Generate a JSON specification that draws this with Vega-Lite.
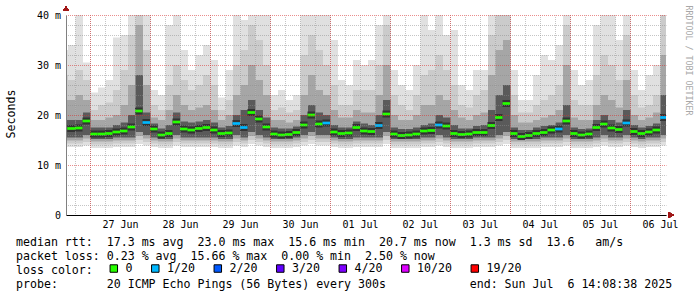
{
  "$schema": "https://vega.github.io/schema/vega-lite/v6.json",
  "width": 600,
  "height": 200,
  "autosize": "none",
  "padding": {"left": 66, "top": 15, "right": 31, "bottom": 82},
  "background": "white",
  "config": {"view": {"stroke": null}, "font": "DejaVu Sans Mono"},
  "resolve": {"axis": {"x": "independent", "y": "independent"}},
  "data": {"values": [
    {"t":"2025-06-26T12:00","l1":13.6,"l2":14.3,"l3":14.9,"l4":15.5,"h1":33,"h2":28,"h3":23,"h4":19,"m":17.3,"loss":"0"},
    {"t":"2025-06-26T15:00","l1":13.6,"l2":14.3,"l3":14.9,"l4":15.5,"h1":34,"h2":27,"h3":23,"h4":19,"m":17.3,"loss":"0"},
    {"t":"2025-06-26T18:00","l1":13.6,"l2":14.3,"l3":14.9,"l4":15.5,"h1":40,"h2":29,"h3":24,"h4":19,"m":17.4,"loss":"0"},
    {"t":"2025-06-26T21:00","l1":13.9,"l2":14.6,"l3":15.3,"l4":16.0,"h1":30.5,"h2":27,"h3":23,"h4":20.5,"m":18.8,"loss":"0"},
    {"t":"2025-06-27T00:00","l1":13.4,"l2":14.1,"l3":14.7,"l4":15.2,"h1":24.5,"h2":21,"h3":19,"h4":17.5,"m":16.2,"loss":"0"},
    {"t":"2025-06-27T03:00","l1":13.4,"l2":14.1,"l3":14.7,"l4":15.2,"h1":25.5,"h2":22,"h3":19,"h4":17.5,"m":16.2,"loss":"0"},
    {"t":"2025-06-27T06:00","l1":13.4,"l2":14.1,"l3":14.7,"l4":15.2,"h1":27,"h2":22.5,"h3":19.5,"h4":17.5,"m":16.3,"loss":"0"},
    {"t":"2025-06-27T09:00","l1":13.6,"l2":14.3,"l3":14.9,"l4":15.5,"h1":35.5,"h2":25,"h3":20,"h4":18,"m":16.6,"loss":"0"},
    {"t":"2025-06-27T12:00","l1":13.6,"l2":14.3,"l3":14.9,"l4":15.5,"h1":36,"h2":29,"h3":22,"h4":18.5,"m":16.8,"loss":"0"},
    {"t":"2025-06-27T15:00","l1":13.6,"l2":14.3,"l3":14.9,"l4":15.5,"h1":40,"h2":36,"h3":26,"h4":20,"m":17.6,"loss":"0"},
    {"t":"2025-06-27T18:00","l1":14.2,"l2":15.0,"l3":15.8,"l4":16.6,"h1":40,"h2":40,"h3":38,"h4":28,"m":20.8,"loss":"0"},
    {"t":"2025-06-27T21:00","l1":13.9,"l2":14.6,"l3":15.3,"l4":16.0,"h1":40,"h2":33,"h3":26,"h4":20.5,"m":18.5,"loss":"1/20"},
    {"t":"2025-06-28T00:00","l1":13.6,"l2":14.3,"l3":14.9,"l4":15.5,"h1":25,"h2":22,"h3":19.5,"h4":18.3,"m":17.2,"loss":"0"},
    {"t":"2025-06-28T03:00","l1":13.4,"l2":14.1,"l3":14.7,"l4":15.2,"h1":24,"h2":21,"h3":19,"h4":17.3,"m":16.0,"loss":"0"},
    {"t":"2025-06-28T06:00","l1":13.4,"l2":14.1,"l3":14.7,"l4":15.2,"h1":38,"h2":26,"h3":21,"h4":18,"m":16.3,"loss":"0"},
    {"t":"2025-06-28T09:00","l1":13.9,"l2":14.6,"l3":15.3,"l4":16.0,"h1":40,"h2":30,"h3":24,"h4":20.5,"m":18.6,"loss":"0"},
    {"t":"2025-06-28T12:00","l1":13.6,"l2":14.3,"l3":14.9,"l4":15.5,"h1":33,"h2":27,"h3":22,"h4":18.7,"m":17.2,"loss":"0"},
    {"t":"2025-06-28T15:00","l1":13.6,"l2":14.3,"l3":14.9,"l4":15.5,"h1":29,"h2":25,"h3":21,"h4":18.5,"m":17.0,"loss":"0"},
    {"t":"2025-06-28T18:00","l1":13.6,"l2":14.3,"l3":14.9,"l4":15.5,"h1":32,"h2":26,"h3":21.5,"h4":18.7,"m":17.3,"loss":"0"},
    {"t":"2025-06-28T21:00","l1":13.6,"l2":14.3,"l3":14.9,"l4":15.5,"h1":34,"h2":28,"h3":22,"h4":19,"m":17.5,"loss":"0"},
    {"t":"2025-06-29T00:00","l1":13.6,"l2":14.3,"l3":14.9,"l4":15.5,"h1":31,"h2":26,"h3":21,"h4":18.5,"m":17.0,"loss":"0"},
    {"t":"2025-06-29T03:00","l1":13.4,"l2":14.1,"l3":14.7,"l4":15.2,"h1":23.5,"h2":21,"h3":19,"h4":17.5,"m":16.3,"loss":"0"},
    {"t":"2025-06-29T06:00","l1":13.4,"l2":14.1,"l3":14.7,"l4":15.2,"h1":29,"h2":23,"h3":20,"h4":17.8,"m":16.4,"loss":"0"},
    {"t":"2025-06-29T09:00","l1":13.9,"l2":14.6,"l3":15.3,"l4":16.0,"h1":40,"h2":30,"h3":24,"h4":20,"m":18.3,"loss":"1/20"},
    {"t":"2025-06-29T12:00","l1":13.6,"l2":14.3,"l3":14.9,"l4":15.5,"h1":39,"h2":33,"h3":26,"h4":21,"m":17.5,"loss":"1/20"},
    {"t":"2025-06-29T15:00","l1":14.2,"l2":15.0,"l3":15.8,"l4":16.6,"h1":40,"h2":38,"h3":30,"h4":23,"m":20.5,"loss":"0"},
    {"t":"2025-06-29T18:00","l1":13.9,"l2":14.6,"l3":15.3,"l4":16.0,"h1":40,"h2":35,"h3":27,"h4":21,"m":19.2,"loss":"0"},
    {"t":"2025-06-29T21:00","l1":13.6,"l2":14.3,"l3":14.9,"l4":15.5,"h1":40,"h2":30,"h3":24,"h4":19.5,"m":17.6,"loss":"0"},
    {"t":"2025-06-30T00:00","l1":13.4,"l2":14.1,"l3":14.7,"l4":15.2,"h1":24,"h2":21,"h3":19,"h4":17.5,"m":16.2,"loss":"0"},
    {"t":"2025-06-30T03:00","l1":13.4,"l2":14.1,"l3":14.7,"l4":15.2,"h1":25,"h2":21.5,"h3":19,"h4":17.3,"m":16.0,"loss":"0"},
    {"t":"2025-06-30T06:00","l1":13.4,"l2":14.1,"l3":14.7,"l4":15.2,"h1":23,"h2":20.5,"h3":18.5,"h4":17.3,"m":16.1,"loss":"0"},
    {"t":"2025-06-30T09:00","l1":13.6,"l2":14.3,"l3":14.9,"l4":15.5,"h1":24,"h2":21,"h3":19,"h4":17.7,"m":16.5,"loss":"0"},
    {"t":"2025-06-30T12:00","l1":13.9,"l2":14.6,"l3":15.3,"l4":16.0,"h1":40,"h2":32,"h3":24,"h4":20,"m":18.0,"loss":"0"},
    {"t":"2025-06-30T15:00","l1":14.2,"l2":15.0,"l3":15.8,"l4":16.6,"h1":40,"h2":36,"h3":28,"h4":22,"m":20.0,"loss":"0"},
    {"t":"2025-06-30T18:00","l1":13.9,"l2":14.6,"l3":15.3,"l4":16.0,"h1":40,"h2":33,"h3":25,"h4":20.5,"m":18.2,"loss":"0"},
    {"t":"2025-06-30T21:00","l1":13.9,"l2":14.6,"l3":15.3,"l4":16.0,"h1":40,"h2":30,"h3":24,"h4":20,"m":18.4,"loss":"1/20"},
    {"t":"2025-07-01T00:00","l1":13.6,"l2":14.3,"l3":14.9,"l4":15.5,"h1":35,"h2":26,"h3":21,"h4":18,"m":16.6,"loss":"0"},
    {"t":"2025-07-01T03:00","l1":13.4,"l2":14.1,"l3":14.7,"l4":15.2,"h1":27,"h2":22,"h3":19.5,"h4":17.5,"m":16.3,"loss":"0"},
    {"t":"2025-07-01T06:00","l1":13.4,"l2":14.1,"l3":14.7,"l4":15.2,"h1":26,"h2":22,"h3":19.5,"h4":17.5,"m":16.4,"loss":"0"},
    {"t":"2025-07-01T09:00","l1":13.6,"l2":14.3,"l3":14.9,"l4":15.5,"h1":31,"h2":25,"h3":21,"h4":18.7,"m":17.5,"loss":"0"},
    {"t":"2025-07-01T12:00","l1":13.6,"l2":14.3,"l3":14.9,"l4":15.5,"h1":30,"h2":25,"h3":20.5,"h4":18.3,"m":16.8,"loss":"0"},
    {"t":"2025-07-01T15:00","l1":13.6,"l2":14.3,"l3":14.9,"l4":15.5,"h1":31,"h2":25,"h3":20.5,"h4":18,"m":16.7,"loss":"0"},
    {"t":"2025-07-01T18:00","l1":13.6,"l2":14.3,"l3":14.9,"l4":15.5,"h1":38,"h2":30,"h3":24,"h4":20,"m":17.9,"loss":"1/20"},
    {"t":"2025-07-01T21:00","l1":14.2,"l2":15.0,"l3":15.8,"l4":16.6,"h1":40,"h2":38,"h3":30,"h4":23,"m":20.2,"loss":"0"},
    {"t":"2025-07-02T00:00","l1":13.4,"l2":14.1,"l3":14.7,"l4":15.2,"h1":29,"h2":24,"h3":20,"h4":17.5,"m":16.2,"loss":"0"},
    {"t":"2025-07-02T03:00","l1":13.4,"l2":14.1,"l3":14.7,"l4":15.2,"h1":26,"h2":22,"h3":19,"h4":17.2,"m":15.9,"loss":"0"},
    {"t":"2025-07-02T06:00","l1":13.4,"l2":14.1,"l3":14.7,"l4":15.2,"h1":25,"h2":21,"h3":19,"h4":17.2,"m":16.0,"loss":"0"},
    {"t":"2025-07-02T09:00","l1":13.4,"l2":14.1,"l3":14.7,"l4":15.2,"h1":30,"h2":24,"h3":20,"h4":17.5,"m":16.2,"loss":"0"},
    {"t":"2025-07-02T12:00","l1":13.6,"l2":14.3,"l3":14.9,"l4":15.5,"h1":40,"h2":28,"h3":22,"h4":18,"m":16.8,"loss":"0"},
    {"t":"2025-07-02T15:00","l1":13.6,"l2":14.3,"l3":14.9,"l4":15.5,"h1":37,"h2":29,"h3":22,"h4":18.3,"m":16.9,"loss":"0"},
    {"t":"2025-07-02T18:00","l1":13.9,"l2":14.6,"l3":15.3,"l4":16.0,"h1":40,"h2":32,"h3":24,"h4":20,"m":18.0,"loss":"1/20"},
    {"t":"2025-07-02T21:00","l1":13.6,"l2":14.3,"l3":14.9,"l4":15.5,"h1":36,"h2":29,"h3":23,"h4":19.5,"m":17.8,"loss":"0"},
    {"t":"2025-07-03T00:00","l1":13.4,"l2":14.1,"l3":14.7,"l4":15.2,"h1":37,"h2":26,"h3":21,"h4":18,"m":16.3,"loss":"0"},
    {"t":"2025-07-03T03:00","l1":13.4,"l2":14.1,"l3":14.7,"l4":15.2,"h1":26,"h2":22,"h3":19.5,"h4":17.3,"m":16.1,"loss":"0"},
    {"t":"2025-07-03T06:00","l1":13.4,"l2":14.1,"l3":14.7,"l4":15.2,"h1":25,"h2":21.5,"h3":19,"h4":17.3,"m":16.2,"loss":"0"},
    {"t":"2025-07-03T09:00","l1":13.6,"l2":14.3,"l3":14.9,"l4":15.5,"h1":29,"h2":24,"h3":20,"h4":17.8,"m":16.5,"loss":"0"},
    {"t":"2025-07-03T12:00","l1":13.6,"l2":14.3,"l3":14.9,"l4":15.5,"h1":29,"h2":25,"h3":20.5,"h4":18,"m":16.5,"loss":"0"},
    {"t":"2025-07-03T15:00","l1":13.6,"l2":14.3,"l3":14.9,"l4":15.5,"h1":40,"h2":36,"h3":28,"h4":21,"m":17.9,"loss":"0"},
    {"t":"2025-07-03T18:00","l1":13.9,"l2":14.6,"l3":15.3,"l4":16.0,"h1":40,"h2":40,"h3":33,"h4":24,"m":19.5,"loss":"0"},
    {"t":"2025-07-03T21:00","l1":14.2,"l2":15.0,"l3":15.8,"l4":16.6,"h1":40,"h2":40,"h3":35,"h4":26,"m":22.3,"loss":"0"},
    {"t":"2025-07-04T00:00","l1":13.4,"l2":14.1,"l3":14.7,"l4":15.2,"h1":29,"h2":24,"h3":20,"h4":17.5,"m":16.3,"loss":"0"},
    {"t":"2025-07-04T03:00","l1":13.4,"l2":14.1,"l3":14.7,"l4":15.2,"h1":23,"h2":20.5,"h3":18.5,"h4":17,"m":15.7,"loss":"0"},
    {"t":"2025-07-04T06:00","l1":13.4,"l2":14.1,"l3":14.7,"l4":15.2,"h1":23,"h2":20.5,"h3":18.5,"h4":17,"m":15.9,"loss":"0"},
    {"t":"2025-07-04T09:00","l1":13.4,"l2":14.1,"l3":14.7,"l4":15.2,"h1":28,"h2":22,"h3":19,"h4":17.5,"m":16.3,"loss":"0"},
    {"t":"2025-07-04T12:00","l1":13.6,"l2":14.3,"l3":14.9,"l4":15.5,"h1":32,"h2":23,"h3":19.5,"h4":17.8,"m":16.5,"loss":"0"},
    {"t":"2025-07-04T15:00","l1":13.6,"l2":14.3,"l3":14.9,"l4":15.5,"h1":31,"h2":24,"h3":20,"h4":18,"m":17.0,"loss":"0"},
    {"t":"2025-07-04T18:00","l1":13.6,"l2":14.3,"l3":14.9,"l4":15.5,"h1":34,"h2":26,"h3":21,"h4":18.5,"m":17.2,"loss":"1/20"},
    {"t":"2025-07-04T21:00","l1":13.9,"l2":14.6,"l3":15.3,"l4":16.0,"h1":40,"h2":38,"h3":30,"h4":22,"m":18.8,"loss":"0"},
    {"t":"2025-07-05T00:00","l1":13.4,"l2":14.1,"l3":14.7,"l4":15.2,"h1":29,"h2":23,"h3":19.5,"h4":17.5,"m":16.3,"loss":"0"},
    {"t":"2025-07-05T03:00","l1":13.4,"l2":14.1,"l3":14.7,"l4":15.2,"h1":26,"h2":22,"h3":19,"h4":17.2,"m":16.0,"loss":"0"},
    {"t":"2025-07-05T06:00","l1":13.4,"l2":14.1,"l3":14.7,"l4":15.2,"h1":27,"h2":22,"h3":19,"h4":17.3,"m":16.2,"loss":"0"},
    {"t":"2025-07-05T09:00","l1":13.6,"l2":14.3,"l3":14.9,"l4":15.5,"h1":38,"h2":28,"h3":22,"h4":19,"m":17.5,"loss":"0"},
    {"t":"2025-07-05T12:00","l1":13.9,"l2":14.6,"l3":15.3,"l4":16.0,"h1":40,"h2":32,"h3":24,"h4":20,"m":18.2,"loss":"0"},
    {"t":"2025-07-05T15:00","l1":13.6,"l2":14.3,"l3":14.9,"l4":15.5,"h1":40,"h2":30,"h3":23,"h4":19,"m":17.4,"loss":"0"},
    {"t":"2025-07-05T18:00","l1":13.6,"l2":14.3,"l3":14.9,"l4":15.5,"h1":35,"h2":27,"h3":21.5,"h4":18.5,"m":17.1,"loss":"0"},
    {"t":"2025-07-05T21:00","l1":13.9,"l2":14.6,"l3":15.3,"l4":16.0,"h1":40,"h2":36,"h3":27,"h4":21,"m":18.4,"loss":"1/20"},
    {"t":"2025-07-06T00:00","l1":13.6,"l2":14.3,"l3":14.9,"l4":15.5,"h1":29,"h2":24,"h3":20,"h4":18,"m":16.7,"loss":"0"},
    {"t":"2025-07-06T03:00","l1":13.4,"l2":14.1,"l3":14.7,"l4":15.2,"h1":25,"h2":21.5,"h3":19,"h4":17.5,"m":16.3,"loss":"0"},
    {"t":"2025-07-06T06:00","l1":13.6,"l2":14.3,"l3":14.9,"l4":15.5,"h1":28,"h2":22,"h3":19.5,"h4":17.8,"m":16.6,"loss":"0"},
    {"t":"2025-07-06T09:00","l1":13.6,"l2":14.3,"l3":14.9,"l4":15.5,"h1":30,"h2":24,"h3":20.5,"h4":18.3,"m":17.0,"loss":"0"},
    {"t":"2025-07-06T12:00","l1":13.9,"l2":14.6,"l3":15.3,"l4":16.0,"h1":40,"h2":40,"h3":32,"h4":24,"m":19.5,"loss":"1/20"}
  ]},
  "layer": [
    {
      "mark": {"type": "rect", "color": "#e0e0e0", "clip": true},
      "encoding": {
        "x": {"field": "t", "type": "temporal", "timeUnit": {"unit": "yearmonthdatehours", "step": 3},
          "scale": {"domain": [{"year": 2025, "month": "jun", "date": 26, "hours": 14, "minutes": 24}, {"year": 2025, "month": "jul", "date": 6, "hours": 14, "minutes": 24}]},
          "axis": {
            "orient": "bottom", "zindex": 2,
            "values": [
              {"year": 2025, "month": "jun", "date": 27}, {"year": 2025, "month": "jun", "date": 28}, {"year": 2025, "month": "jun", "date": 29},
              {"year": 2025, "month": "jun", "date": 30}, {"year": 2025, "month": "jul", "date": 1}, {"year": 2025, "month": "jul", "date": 2},
              {"year": 2025, "month": "jul", "date": 3}, {"year": 2025, "month": "jul", "date": 4}, {"year": 2025, "month": "jul", "date": 5},
              {"year": 2025, "month": "jul", "date": 6}
            ],
            "format": "%d %b",
            "grid": true, "gridColor": "#d83030", "gridOpacity": 0.55, "gridDash": [1, 1], "gridDashOffset": 0.5, "gridWidth": 1,
            "ticks": false, "tickSize": 0,
            "labelOffset": 30, "labelPadding": 4, "labelFont": "DejaVu Sans Mono", "labelFontSize": 10, "labelColor": "black",
            "labelFlush": false, "labelOverlap": false,
            "domainColor": "black", "domainWidth": 1,
            "title": [
              "median rtt:\u00a0\u00a017.3 ms avg\u00a0\u00a023.0 ms max\u00a0\u00a015.6 ms min\u00a0\u00a020.7 ms now\u00a0\u00a01.3 ms sd\u00a0\u00a013.6\u00a0\u00a0\u00a0am/s",
              "packet loss: 0.23 % avg\u00a0\u00a015.66 % max\u00a0\u00a00.00 % min\u00a0\u00a02.50 % now",
              "loss color:",
              "probe:\u00a0\u00a0\u00a0\u00a0\u00a0\u00a0\u00a020 ICMP Echo Pings (56 Bytes) every 300s\u00a0\u00a0\u00a0\u00a0\u00a0\u00a0\u00a0\u00a0\u00a0\u00a0\u00a0\u00a0end: Sun Jul\u00a0\u00a06 14:08:38 2025"
            ],
            "titleX": -50.5, "titleY": 30, "titleAlign": "left", "titleAnchor": "start", "titleBaseline": "alphabetic",
            "titleFont": "DejaVu Sans Mono", "titleFontSize": 11.6, "titleFontWeight": "normal", "titleColor": "black", "titleLineHeight": 14
          }
        },
        "y": {"field": "l1", "type": "quantitative", "scale": {"domain": [0, 40], "nice": false},
          "axis": {
            "orient": "left", "zindex": 2,
            "values": [0, 10, 20, 30, 40],
            "grid": true, "gridColor": "#d83030", "gridOpacity": 0.55, "gridDash": [1, 1], "gridDashOffset": 0.5, "gridWidth": 1,
            "ticks": false, "tickSize": 0,
            "labelExpr": "datum.value == 0 ? '0' : datum.value + ' m'",
            "labelFont": "DejaVu Sans Mono", "labelFontSize": 10, "labelColor": "black", "labelPadding": 5.5,
            "labelOverlap": false, "labelFlush": false,
            "domainColor": "#808080", "domainWidth": 1,
            "title": "Seconds", "titleX": -52, "titleY": 98.5, "titleAngle": -90, "titleAlign": "center", "titleBaseline": "alphabetic",
            "titleFont": "DejaVu Sans Mono", "titleFontSize": 11.6, "titleFontWeight": "normal", "titleColor": "black"
          }
        },
        "y2": {"field": "h1"}
      }
    },
    {
      "mark": {"type": "rect", "color": "#cbcbcb", "clip": true},
      "encoding": {
        "x": {"field": "t", "type": "temporal", "timeUnit": {"unit": "yearmonthdatehours", "step": 3},
          "scale": {"domain": [{"year": 2025, "month": "jun", "date": 26, "hours": 14, "minutes": 24}, {"year": 2025, "month": "jul", "date": 6, "hours": 14, "minutes": 24}]},
          "axis": {
            "orient": "top", "zindex": 1, "tickCount": 40,
            "grid": true, "gridColor": "#8c8c8c", "gridOpacity": 0.5, "gridDash": [1, 1], "gridDashOffset": 0.5, "gridWidth": 1,
            "ticks": false, "labels": false, "domain": false, "title": null
          }
        },
        "y": {"field": "l2", "type": "quantitative", "scale": {"domain": [0, 40], "nice": false},
          "axis": {
            "orient": "right", "zindex": 1,
            "values": [2, 4, 6, 8, 12, 14, 16, 18, 22, 24, 26, 28, 32, 34, 36, 38],
            "grid": true, "gridColor": "#8c8c8c", "gridOpacity": 0.5, "gridDash": [1, 1], "gridDashOffset": 0.5, "gridWidth": 1,
            "ticks": false, "labels": false, "domain": false,
            "title": "RRDTOOL / TOBI OETIKER", "titleX": 19, "titleY": -10, "titleAngle": 90, "titleAlign": "left", "titleBaseline": "alphabetic",
            "titleFont": "DejaVu Sans Mono", "titleFontSize": 8.3, "titleFontWeight": "normal", "titleColor": "#a8a8a8"
          }
        },
        "y2": {"field": "h2"}
      }
    },
    {
      "mark": {"type": "rect", "color": "#a6a6a6", "clip": true},
      "encoding": {
        "x": {"field": "t", "type": "temporal", "timeUnit": {"unit": "yearmonthdatehours", "step": 3},
          "scale": {"domain": [{"year": 2025, "month": "jun", "date": 26, "hours": 14, "minutes": 24}, {"year": 2025, "month": "jul", "date": 6, "hours": 14, "minutes": 24}]}, "axis": null},
        "y": {"field": "l3", "type": "quantitative", "scale": {"domain": [0, 40], "nice": false}, "axis": null},
        "y2": {"field": "h3"}
      }
    },
    {
      "mark": {"type": "rect", "color": "#5a5a5a", "clip": true},
      "encoding": {
        "x": {"field": "t", "type": "temporal", "timeUnit": {"unit": "yearmonthdatehours", "step": 3},
          "scale": {"domain": [{"year": 2025, "month": "jun", "date": 26, "hours": 14, "minutes": 24}, {"year": 2025, "month": "jul", "date": 6, "hours": 14, "minutes": 24}]}, "axis": null},
        "y": {"field": "l4", "type": "quantitative", "scale": {"domain": [0, 40], "nice": false}, "axis": null},
        "y2": {"field": "h4"}
      }
    },
    {
      "mark": {"type": "tick", "orient": "horizontal", "size": 7.5, "thickness": 7, "opacity": 1, "color": "#333333", "clip": true},
      "encoding": {
        "x": {"field": "t", "type": "temporal", "timeUnit": {"unit": "yearmonthdatehours", "step": 3}, "bandPosition": 0.5,
          "scale": {"domain": [{"year": 2025, "month": "jun", "date": 26, "hours": 14, "minutes": 24}, {"year": 2025, "month": "jul", "date": 6, "hours": 14, "minutes": 24}]}, "axis": null},
        "y": {"field": "m", "type": "quantitative", "scale": {"domain": [0, 40], "nice": false}, "axis": null}
      }
    },
    {
      "mark": {"type": "tick", "orient": "horizontal", "size": 7.5, "thickness": 2.7, "opacity": 1, "clip": true},
      "encoding": {
        "x": {"field": "t", "type": "temporal", "timeUnit": {"unit": "yearmonthdatehours", "step": 3}, "bandPosition": 0.5,
          "scale": {"domain": [{"year": 2025, "month": "jun", "date": 26, "hours": 14, "minutes": 24}, {"year": 2025, "month": "jul", "date": 6, "hours": 14, "minutes": 24}]}, "axis": null},
        "y": {"field": "m", "type": "quantitative", "scale": {"domain": [0, 40], "nice": false}, "axis": null},
        "color": {"field": "loss", "type": "nominal",
          "scale": {"domain": ["0", "1/20", "2/20", "3/20", "4/20", "10/20", "19/20"], "range": ["#26ff00", "#00b8ff", "#0059ff", "#5e00ff", "#7e00ff", "#dd00ff", "#ff0000"]},
          "legend": {
            "orient": "none", "legendX": 42, "legendY": 247.5, "direction": "horizontal", "title": null, "padding": 0,
            "symbolType": "square", "symbolSize": 56, "symbolStrokeColor": "black", "symbolStrokeWidth": 1, "symbolOpacity": 1,
            "labelFont": "DejaVu Sans Mono", "labelFontSize": 11.6, "labelColor": "black", "labelOffset": 6, "columnPadding": 16.5
          }
        }
      }
    },
    {
      "mark": {"type": "point", "shape": "triangle-up", "filled": true, "size": 28, "color": "#a01818", "opacity": 1, "clip": false},
      "encoding": {
        "x": {"datum": {"year": 2025, "month": "jun", "date": 26, "hours": 14, "minutes": 24}, "type": "temporal",
          "scale": {"domain": [{"year": 2025, "month": "jun", "date": 26, "hours": 14, "minutes": 24}, {"year": 2025, "month": "jul", "date": 6, "hours": 14, "minutes": 24}]}, "axis": null},
        "y": {"datum": 41.3, "type": "quantitative", "scale": {"domain": [0, 40], "nice": false}, "axis": null}
      }
    },
    {
      "mark": {"type": "point", "shape": "triangle-right", "filled": true, "size": 28, "color": "#a01818", "opacity": 1, "clip": false},
      "encoding": {
        "x": {"datum": {"year": 2025, "month": "jul", "date": 6, "hours": 16, "minutes": 30}, "type": "temporal",
          "scale": {"domain": [{"year": 2025, "month": "jun", "date": 26, "hours": 14, "minutes": 24}, {"year": 2025, "month": "jul", "date": 6, "hours": 14, "minutes": 24}]}, "axis": null},
        "y": {"datum": 0, "type": "quantitative", "scale": {"domain": [0, 40], "nice": false}, "axis": null}
      }
    }
  ]
}
